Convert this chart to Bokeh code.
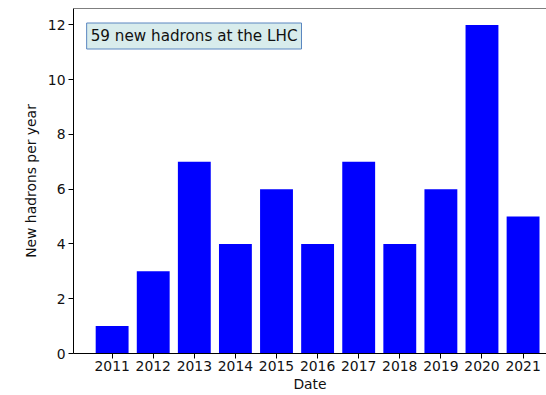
from bokeh.plotting import figure
from bokeh.models import Range1d, FixedTicker, Span, Label, ColumnDataSource
from bokeh.embed import file_html
from bokeh.resources import INLINE

# New hadrons discovered at the LHC, per year
years = [2011, 2012, 2013, 2014, 2015, 2016, 2017, 2018, 2019, 2020, 2021]
counts = [1, 3, 7, 4, 6, 4, 7, 4, 6, 12, 5]
y_ticks = [0, 2, 4, 6, 8, 10, 12]
total = sum(counts)

FONT = "DejaVu Sans"
FS = "13.9px"

source = ColumnDataSource(data=dict(year=years, count=counts))

p = figure(
    width=546, height=395,
    output_backend="svg", toolbar_location=None,
    x_range=Range1d(years[0] - 0.94, years[-1] + 0.57),
    y_range=Range1d(0, max(counts) * 1.05),
    min_border_left=73, min_border_right=0,
    min_border_top=8, min_border_bottom=42,
)
p.outline_line_color = None
p.xgrid.visible = False
p.ygrid.visible = False
p.background_fill_color = "white"
p.border_fill_color = "white"

p.vbar(x="year", top="count", width=0.8, source=source,
       fill_color="#0000ff", line_color=None)

# top spine
p.add_layout(Span(location=max(counts) * 1.05, dimension="width",
                  line_color="black", line_width=1))

for ax in (p.xaxis[0], p.yaxis[0]):
    ax.axis_line_color = "black"
    ax.axis_line_width = 1
    ax.major_tick_line_color = "black"
    ax.major_tick_out = 5
    ax.major_tick_in = 0
    ax.minor_tick_line_color = None
    ax.major_label_text_font = FONT
    ax.major_label_text_font_size = FS
    ax.major_label_text_color = "#111111"
    ax.major_label_standoff = 3
    ax.axis_label_text_font = FONT
    ax.axis_label_text_font_size = FS
    ax.axis_label_text_font_style = "normal"
    ax.axis_label_text_color = "#111111"

p.xaxis.ticker = FixedTicker(ticks=years)
p.xaxis.axis_label = "Date"
p.xaxis.axis_label_standoff = 2
p.xaxis.major_label_standoff = 2
p.yaxis.ticker = FixedTicker(ticks=y_ticks)
p.yaxis.axis_label = "New hadrons per year"
p.yaxis.axis_label_standoff = 6

p.add_layout(Label(
    x=years[0] - 0.62, y=12.07,
    text=f"{total} new hadrons at the LHC",
    anchor="top_left",
    text_font=FONT, text_font_size="15.2px", text_color="#111111",
    background_fill_color="#d8ecec",
    border_line_color="#5a86c0", border_line_width=1,
    padding=4,
))

open("out.html", "w").write(file_html(p, INLINE))
